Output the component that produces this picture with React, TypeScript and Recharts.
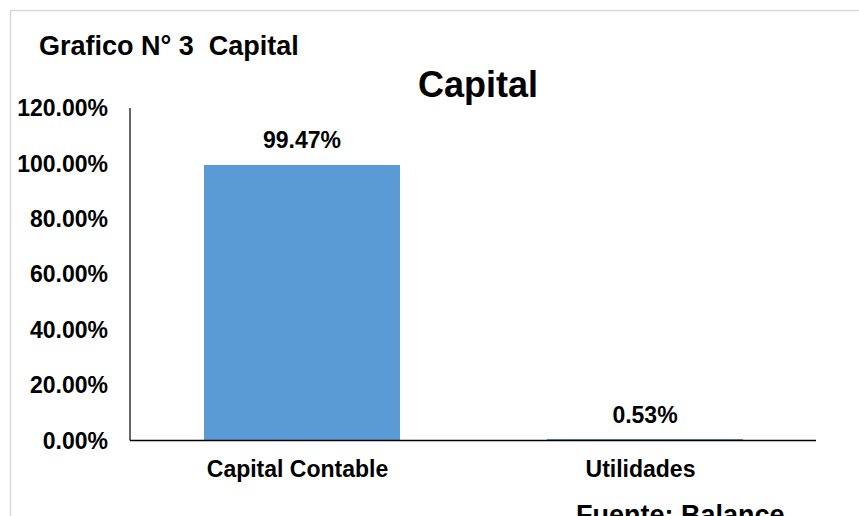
import { BarChart, Bar, XAxis, YAxis, LabelList } from 'recharts';

const categories = ['Capital Contable', 'Utilidades'];
const shares = [99.47, 0.53];
const yTicks = [0, 20, 40, 60, 80, 100, 120];

const data = categories.map((name, i) => ({ name, share: shares[i] }));

const font = '"Liberation Sans", Arial, sans-serif';
const pct = (v: number) => `${v.toFixed(2)}%`;

export default function App() {
  return (
    <div style={{ position: 'absolute', left: 0, top: 0, width: 859, height: 516, overflow: 'hidden', background: '#fff' }}>
      <BarChart width={859} height={516} data={data} margin={{ top: 108, right: 43, bottom: 0, left: 0 }}>
        <XAxis
          dataKey="name"
          height={75.5}
          axisLine={{ stroke: '#000', strokeWidth: 1.5 }}
          tickLine={false}
          tickMargin={14}
          tick={{ fill: '#000', fontSize: 23, fontWeight: 'bold', fontFamily: font, dx: -4 }}
        />
        <YAxis
          width={130}
          domain={[0, 120]}
          ticks={yTicks}
          tickFormatter={pct}
          axisLine={{ stroke: '#000', strokeWidth: 1.2 }}
          tickLine={false}
          tickMargin={16}
          tick={{ fill: '#000', fontSize: 23, fontWeight: 'bold', fontFamily: font }}
        />
        <Bar dataKey="share" fill="#5B9BD5" barSize={196} isAnimationActive={false}>
          <LabelList
            dataKey="share"
            position="top"
            offset={16.5}
            formatter={(v: any) => pct(Number(v))}
            style={{ fill: '#000', fontSize: 23, fontWeight: 'bold', fontFamily: font }}
          />
        </Bar>
      </BarChart>
      <svg width={859} height={516} style={{ position: 'absolute', left: 0, top: 0, pointerEvents: 'none' }}>
        <rect x={10.5} y={10.5} width={860} height={520} fill="none" stroke="#d9d9d9" strokeWidth={1.5} />
        <text x={39} y={55} fontSize={27} fontWeight="bold" fontFamily={font} style={{ whiteSpace: 'pre' }}>
          Grafico N° 3  Capital
        </text>
        <text x={478} y={96.5} fontSize={36} fontWeight="bold" fontFamily={font} textAnchor="middle">
          Capital
        </text>
        <text x={576} y={523.5} fontSize={27} fontWeight="bold" fontFamily={font}>
          Fuente: Balance
        </text>
      </svg>
    </div>
  );
}
